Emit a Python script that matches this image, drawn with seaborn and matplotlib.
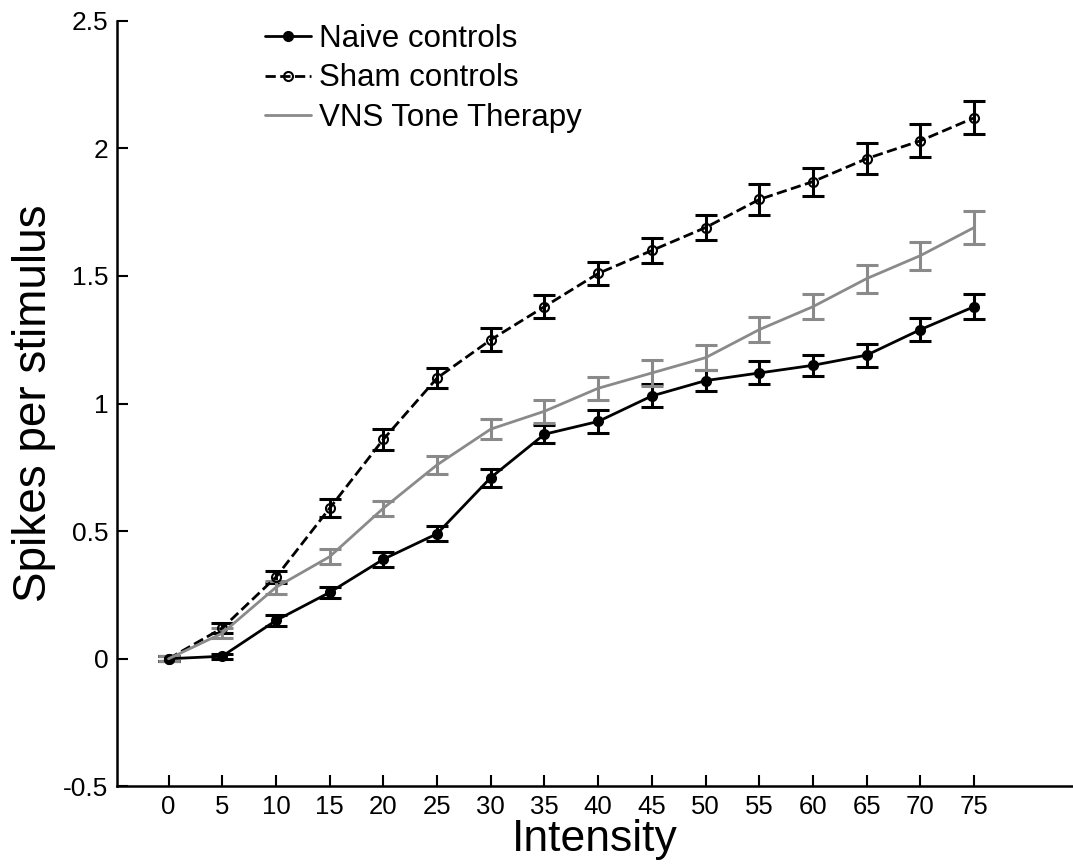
import numpy as np
import pandas as pd
import matplotlib
matplotlib.use("Agg")
import matplotlib.pyplot as plt
import seaborn as sns

intensity = [0, 5, 10, 15, 20, 25, 30, 35, 40, 45, 50, 55, 60, 65, 70, 75]
naive = [0.0, 0.01, 0.15, 0.26, 0.39, 0.49, 0.71, 0.88, 0.93, 1.03, 1.09, 1.12, 1.15, 1.19, 1.29, 1.38]
naive_err = [0.01, 0.01, 0.02, 0.02, 0.03, 0.03, 0.035, 0.035, 0.045, 0.045, 0.04, 0.045, 0.04, 0.045, 0.045, 0.05]
sham = [0.0, 0.12, 0.32, 0.59, 0.86, 1.10, 1.25, 1.38, 1.51, 1.60, 1.69, 1.80, 1.87, 1.96, 2.03, 2.12]
sham_err = [0.01, 0.02, 0.025, 0.035, 0.04, 0.04, 0.045, 0.045, 0.045, 0.05, 0.05, 0.06, 0.055, 0.06, 0.065, 0.065]
vns = [0.0, 0.10, 0.28, 0.40, 0.59, 0.76, 0.90, 0.97, 1.06, 1.12, 1.18, 1.29, 1.38, 1.49, 1.58, 1.69]
vns_err = [0.01, 0.02, 0.025, 0.03, 0.03, 0.035, 0.04, 0.045, 0.045, 0.05, 0.05, 0.05, 0.05, 0.055, 0.055, 0.065]
labels = ["Naive controls", "Sham controls", "VNS Tone Therapy"]
yticks = [-0.5, 0, 0.5, 1, 1.5, 2, 2.5]
yticklabels = ["-0.5", "0", "0.5", "1", "1.5", "2", "2.5"]

sns.set_style("ticks")
plt.rcParams["font.family"] = ["Liberation Sans", "DejaVu Sans"]
plt.rcParams["xtick.direction"] = "in"
plt.rcParams["ytick.direction"] = "in"
plt.rcParams["text.color"] = "black"
plt.rcParams["axes.labelcolor"] = "black"
plt.rcParams["xtick.color"] = "black"
plt.rcParams["ytick.color"] = "black"

fig = plt.figure(figsize=(10.73, 8.67), dpi=100)
ax = fig.add_axes([0.109, 0.093, 0.891, 0.883])

gray = "#8a8a8a"
series = [
    (naive, naive_err, labels[0], "black", "-", "o", "black"),
    (sham, sham_err, labels[1], "black", "--", "o", "none"),
    (vns, vns_err, labels[2], gray, "-", None, gray),
]
for vals, errs, lab, col, ls, mk, mfc in series:
    ax.errorbar(intensity, vals, yerr=errs, fmt="none", ecolor=col,
                elinewidth=2.2, capsize=8, capthick=2.2, zorder=2)
    sns.lineplot(x=intensity, y=vals, ax=ax, color=col, linestyle=ls,
                 marker=mk, markersize=6.5, markerfacecolor=mfc,
                 markeredgecolor=col, markeredgewidth=1.5,
                 linewidth=2.0, label=lab, zorder=3)

ax.set_xlim(-4.8, 84.2)
ax.set_ylim(-0.5, 2.5)
ax.set_xticks(intensity)
ax.set_xticklabels([str(v) for v in intensity], fontsize=18.5)
ax.set_yticks(yticks)
ax.set_yticklabels(yticklabels, fontsize=19)
ax.tick_params(axis="both", length=8, width=1.5, pad=6, color="black",
               labelcolor="black")
for s in ["top", "right"]:
    ax.spines[s].set_visible(False)
for s in ["left", "bottom"]:
    ax.spines[s].set_linewidth(1.8)
    ax.spines[s].set_color("black")

ax.set_xlabel("Intensity", fontsize=32, labelpad=0)
ax.set_ylabel("Spikes per stimulus", fontsize=33, labelpad=5)

leg = ax.legend(loc="upper left", bbox_to_anchor=(0.142, 1.012), frameon=False,
                fontsize=22.5, handlelength=1.45, handletextpad=0.26,
                labelspacing=0.3, borderaxespad=0)

fig.savefig("out.png", dpi=100)
